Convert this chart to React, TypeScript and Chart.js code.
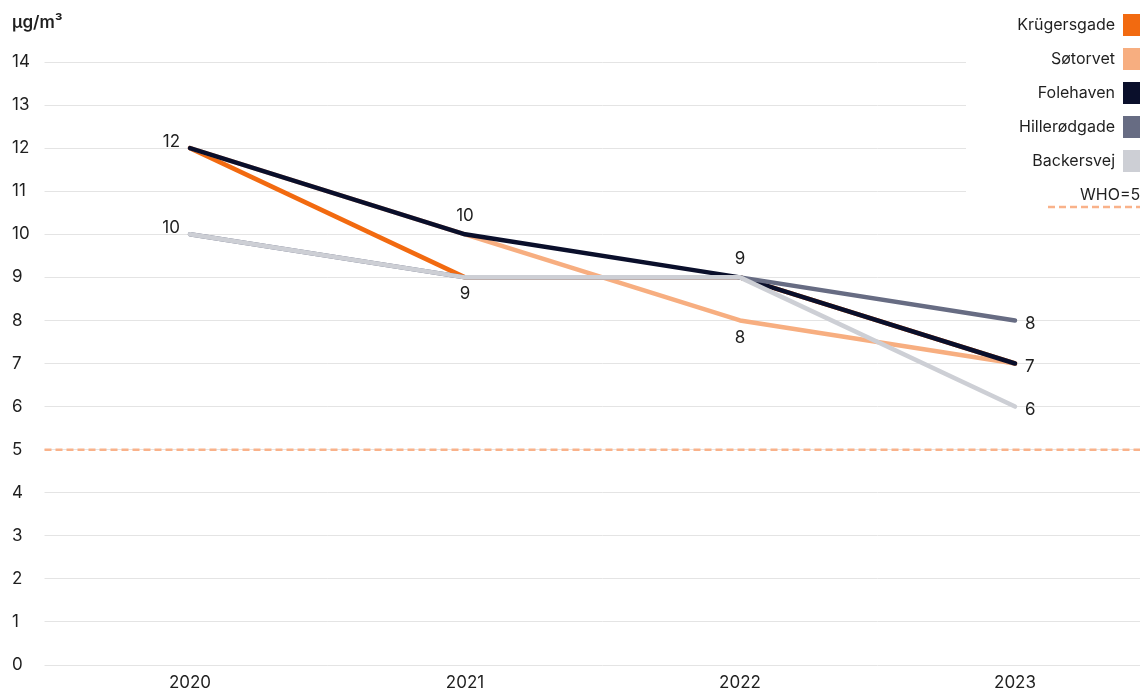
import React, { useEffect, useRef } from "react";
import Chart from "chart.js/auto";

const years = ["2020", "2021", "2022", "2023"];
const seriesNames = ["Krügersgade", "Søtorvet", "Folehaven", "Hillerødgade", "Backersvej"];
const krugersgade = [12, 9, 9, 7];
const sotorvet = [12, 10, 8, 7];
const folehaven = [12, 10, 9, 7];
const hillerodgade = [10, 9, 9, 8];
const backersvej = [10, 9, 9, 6];
const seriesColors = ["#F26A10", "#F7AE80", "#0A0F2B", "#676C83", "#CDCFD5"];

// which point labels are shown, and where
const krugersgadeLabels = [null, null, null, null];
const sotorvetLabels = [null, null, "bottom", null];
const folehavenLabels = ["left", "top", "top", "right"];
const hillerodgadeLabels = [null, null, null, "right"];
const backersvejLabels = ["left", "bottom", null, "right"];

const whoLimit = 5;
const whoLabel = "WHO=5";
const whoColor = "#F9B28A";
const yMin = 0;
const yMax = 14;
const yStep = 1;
const unitLabel = "µg/m³";

const FONT = "Inter, 'Noto Sans', sans-serif";
const TEXT = "#1f1f1f";

const seriesValues = [krugersgade, sotorvet, folehaven, hillerodgade, backersvej];
const seriesLabelPos = [krugersgadeLabels, sotorvetLabels, folehavenLabels, hillerodgadeLabels, backersvejLabels];

const overlayPlugin = {
  id: "overlay",
  beforeDatasetsDraw(chart: any) {
    const { ctx, chartArea, scales } = chart;
    const y = scales.y.getPixelForValue(whoLimit);
    ctx.save();
    ctx.strokeStyle = whoColor;
    ctx.lineWidth = 2.5;
    ctx.setLineDash([7, 4]);
    ctx.beginPath();
    ctx.moveTo(chartArea.left - 8, y);
    ctx.lineTo(chartArea.right, y);
    ctx.stroke();
    ctx.restore();
  },
  afterDatasetsDraw(chart: any) {
    const { ctx } = chart;
    ctx.save();
    ctx.font = `17px ${FONT}`;
    ctx.fillStyle = TEXT;
    chart.data.datasets.forEach((ds: any, i: number) => {
      const meta = chart.getDatasetMeta(i);
      const pos = seriesLabelPos[i];
      meta.data.forEach((pt: any, j: number) => {
        const p = pos[j];
        if (!p) return;
        const v = String(ds.data[j]);
        let x = pt.x;
        let y = pt.y;
        ctx.textBaseline = "middle";
        if (p === "left") {
          ctx.textAlign = "right";
          x -= 10;
          y -= 6;
        } else if (p === "right") {
          ctx.textAlign = "left";
          x += 10;
          y += 3;
        } else if (p === "top") {
          ctx.textAlign = "center";
          y -= 18;
        } else {
          ctx.textAlign = "center";
          y += 17;
        }
        ctx.fillText(v, x, y);
      });
    });
    ctx.restore();
  },
  afterDraw(chart: any) {
    const { ctx, width } = chart;
    ctx.save();
    // unit title
    ctx.font = `600 17px ${FONT}`;
    ctx.fillStyle = TEXT;
    ctx.textAlign = "left";
    ctx.textBaseline = "middle";
    ctx.fillText(unitLabel, 12, 23);
    // legend
    ctx.fillStyle = "#ffffff";
    ctx.fillRect(966, 0, width - 966, 215);
    ctx.font = `16px ${FONT}`;
    seriesNames.forEach((name, i) => {
      const cy = 25 + i * 34;
      ctx.fillStyle = TEXT;
      ctx.textAlign = "right";
      ctx.fillText(name, 1115, cy);
      ctx.fillStyle = seriesColors[i];
      ctx.fillRect(1123, cy - 11, 22, 22);
    });
    ctx.fillStyle = TEXT;
    ctx.textAlign = "left";
    ctx.fillText(whoLabel, 1080, 195);
    ctx.strokeStyle = whoColor;
    ctx.lineWidth = 2.5;
    ctx.setLineDash([7, 4]);
    ctx.beginPath();
    ctx.moveTo(1048, 207);
    ctx.lineTo(width, 207);
    ctx.stroke();
    ctx.restore();
  },
};

export default function App() {
  const ref = useRef<HTMLCanvasElement | null>(null);
  useEffect(() => {
    if (!ref.current) return;
    const chart = new Chart(ref.current, {
      type: "line",
      data: {
        labels: years,
        datasets: seriesNames.map((name, i) => ({
          label: name,
          data: seriesValues[i],
          borderColor: seriesColors[i],
          backgroundColor: seriesColors[i],
          borderWidth: 4.5,
          pointRadius: 0,
          tension: 0,
          borderJoinStyle: "round" as const,
          borderCapStyle: "round" as const,
          order: seriesNames.length - i,
        })),
      },
      options: {
        animation: false,
        responsive: true,
        maintainAspectRatio: false,
        layout: { padding: { left: 12, top: 62, right: 7.5, bottom: 0 } },
        plugins: { legend: { display: false }, tooltip: { enabled: false } },
        scales: {
          x: {
            offset: true,
            grid: { display: false, drawTicks: false },
            border: { display: false },
            ticks: { color: TEXT, font: { family: FONT, size: 17 }, padding: 8 },
            afterFit: (s: any) => {
              s.height = 26;
            },
          },
          y: {
            min: yMin,
            max: yMax,
            grid: { color: "#e4e4e4", lineWidth: 1, tickLength: 8, drawTicks: true },
            border: { display: false },
            ticks: {
              stepSize: yStep,
              color: TEXT,
              font: { family: FONT, size: 17 },
              crossAlign: "far",
            },
            afterFit: (s: any) => {
              s.width = 40.5;
            },
          },
        },
      },
      plugins: [overlayPlugin],
    });
    return () => chart.destroy();
  }, []);
  return (
    <div
      style={{
        position: "fixed",
        left: 0,
        top: 0,
        width: 1140,
        height: 691,
        overflow: "hidden",
        background: "#fff",
      }}
    >
      <div style={{ position: "relative", width: 1160, height: 691 }}>
        <canvas ref={ref} />
      </div>
    </div>
  );
}
